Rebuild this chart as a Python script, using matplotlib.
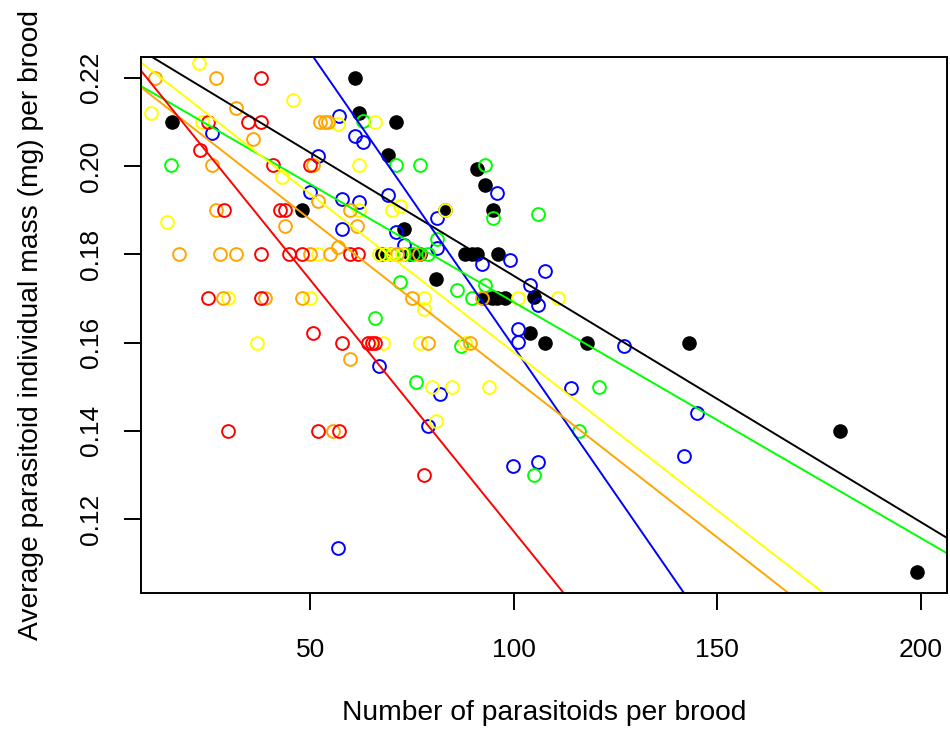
import matplotlib.pyplot as plt

plt.rcParams['font.family'] = ['Liberation Sans', 'DejaVu Sans']

# brood size vs mean individual mass, one group per colour
black_x = [16, 61, 62, 71, 69, 48, 91, 93, 95, 83, 73, 67.6, 74.5, 77, 88, 89.7,
           91, 96, 81, 92.5, 94.6, 95.8, 97.8, 105, 104, 107.7, 118, 143, 180, 199]
black_y = [0.210, 0.220, 0.212, 0.210, 0.2025, 0.190, 0.1993, 0.1957, 0.190, 0.190,
           0.1857, 0.180, 0.180, 0.180, 0.180, 0.180, 0.180, 0.180, 0.1744, 0.170,
           0.170, 0.170, 0.170, 0.1703, 0.1621, 0.160, 0.160, 0.160, 0.140, 0.108]

blue_x = [25.8, 51.8, 50, 57.7, 57, 61, 63, 62.1, 69, 81.1, 57.7, 71, 73, 81.1, 95.8,
          92.1, 99.1, 107.7, 104, 106, 101.1, 101.1, 67, 81.9, 78.9, 99.9, 105.9,
          56.9, 127.1, 114, 145.1, 141.9]
blue_y = [0.2074, 0.2023, 0.1942, 0.1925, 0.2112, 0.2068, 0.2054, 0.1919, 0.1934,
          0.1883, 0.1857, 0.185, 0.1821, 0.1814, 0.1938, 0.1778, 0.1787, 0.1763,
          0.1731, 0.1685, 0.1631, 0.1602, 0.1547, 0.1483, 0.141, 0.1321, 0.133,
          0.1134, 0.1591, 0.1497, 0.1441, 0.1343]

green_x = [15.8, 63, 71, 77, 92.9, 95, 106, 81.1, 69.8, 73, 75.3, 79, 72.1, 86, 92.9,
           89.7, 65.9, 87, 76, 105, 121, 116]
green_y = [0.2001, 0.2101, 0.2001, 0.2001, 0.2001, 0.1883, 0.1891, 0.1835, 0.180,
           0.180, 0.180, 0.180, 0.1738, 0.1718, 0.1731, 0.170, 0.1655, 0.1591, 0.151,
           0.130, 0.150, 0.140]

yellow_x = [22.7, 45.9, 10.8, 23.5, 43, 14.9, 52, 29.9, 49.9, 36.9, 56.9, 65.9, 62,
            72.1, 70, 62.1, 83, 67, 68.4, 70.4, 72.5, 78, 78, 101, 110.9, 68, 77, 88,
            80, 84.9, 93.9, 80.9]
yellow_y = [0.2233, 0.215, 0.212, 0.210, 0.1976, 0.1873, 0.180, 0.170, 0.170, 0.160,
            0.2095, 0.210, 0.2001, 0.191, 0.190, 0.190, 0.190, 0.180, 0.180, 0.180,
            0.180, 0.170, 0.1676, 0.170, 0.170, 0.160, 0.160, 0.160, 0.150, 0.150,
            0.150, 0.1423]

orange_x = [11.9, 26.9, 31.9, 35.9, 25.8, 50.8, 52, 59.8, 26.9, 43.8, 61.4, 17.9,
            27.9, 31.9, 49.9, 54.9, 56.9, 71.2, 76.6, 28.7, 38.9, 47.9, 74.9, 92.1,
            59.9, 79, 89.2, 55.7, 52.4, 53.6, 54.4]
orange_y = [0.220, 0.220, 0.2131, 0.2061, 0.2001, 0.2001, 0.1921, 0.190, 0.190,
            0.1864, 0.1864, 0.180, 0.180, 0.180, 0.180, 0.180, 0.1817, 0.180, 0.180,
            0.170, 0.170, 0.170, 0.170, 0.170, 0.1563, 0.160, 0.160, 0.140, 0.210,
            0.210, 0.210]

red_x = [37.9, 24.8, 34.8, 37.9, 22.9, 40.9, 49.9, 28.9, 42.6, 43.7, 37.9, 44.9,
         47.9, 59.8, 61.8, 24.8, 37.9, 50.8, 57.9, 64.3, 65.3, 65.9, 29.9, 51.8,
         57.1, 77.9]
red_y = [0.220, 0.210, 0.210, 0.210, 0.2035, 0.2001, 0.2001, 0.190, 0.190, 0.190,
         0.180, 0.180, 0.180, 0.180, 0.180, 0.170, 0.170, 0.1621, 0.160, 0.160,
         0.160, 0.160, 0.140, 0.140, 0.140, 0.130]

# fitted lines: intercept and slope per group
line_colors = ['black', 'blue', 'lime', 'yellow', 'orange', 'red']
intercepts = [0.2309, 0.2924, 0.2226, 0.2295, 0.2239, 0.2312]
slopes = [-0.000558, -0.001334, -0.0005346, -0.000717, -0.0007205, -0.00114]

fig = plt.figure(figsize=(9.5, 7.31), dpi=100)
ax = fig.add_axes([0.1484, 0.1884, 0.8481, 0.7332])

ax.plot(black_x, black_y, 'o', color='black', markersize=10.5, markeredgewidth=0)
open_groups = [(blue_x, blue_y, 'blue'), (green_x, green_y, 'lime'),
               (yellow_x, yellow_y, 'yellow'), (orange_x, orange_y, 'orange'),
               (red_x, red_y, 'red')]
for gx, gy, col in open_groups:
    ax.plot(gx, gy, 'o', markerfacecolor='none', markeredgecolor=col,
            markersize=9.2, markeredgewidth=1.4)

for b, m, col in zip(intercepts, slopes, line_colors):
    ax.axline((0, b), slope=m, color=col, linewidth=1.4)

ax.set_xlim(8.45, 206.3)
ax.set_ylim(0.1032, 0.2246)
ax.set_xticks([50, 100, 150, 200])
ax.set_yticks([0.12, 0.14, 0.16, 0.18, 0.20, 0.22])
ax.set_yticklabels(['0.12', '0.14', '0.16', '0.18', '0.20', '0.22'])
ax.tick_params(axis='both', direction='out', length=12, width=1.4, labelsize=19)
ax.tick_params(axis='x', pad=20)
ax.tick_params(axis='y', pad=15, labelrotation=90)
for lab in ax.get_yticklabels():
    lab.set_verticalalignment('center')
for sp in ax.spines.values():
    sp.set_linewidth(1.4)

ax.set_xlabel('Number of parasitoids per brood', fontsize=20.3)
ax.set_ylabel('Average parasitoid individual mass (mg) per brood', fontsize=20.3)
ax.xaxis.set_label_coords(0.5, -0.2233)
ax.xaxis.label.set_verticalalignment('center')
ax.yaxis.set_label_coords(-0.1365, 0.5)
ax.yaxis.label.set_verticalalignment('center')

fig.savefig('out.png', dpi=100)
